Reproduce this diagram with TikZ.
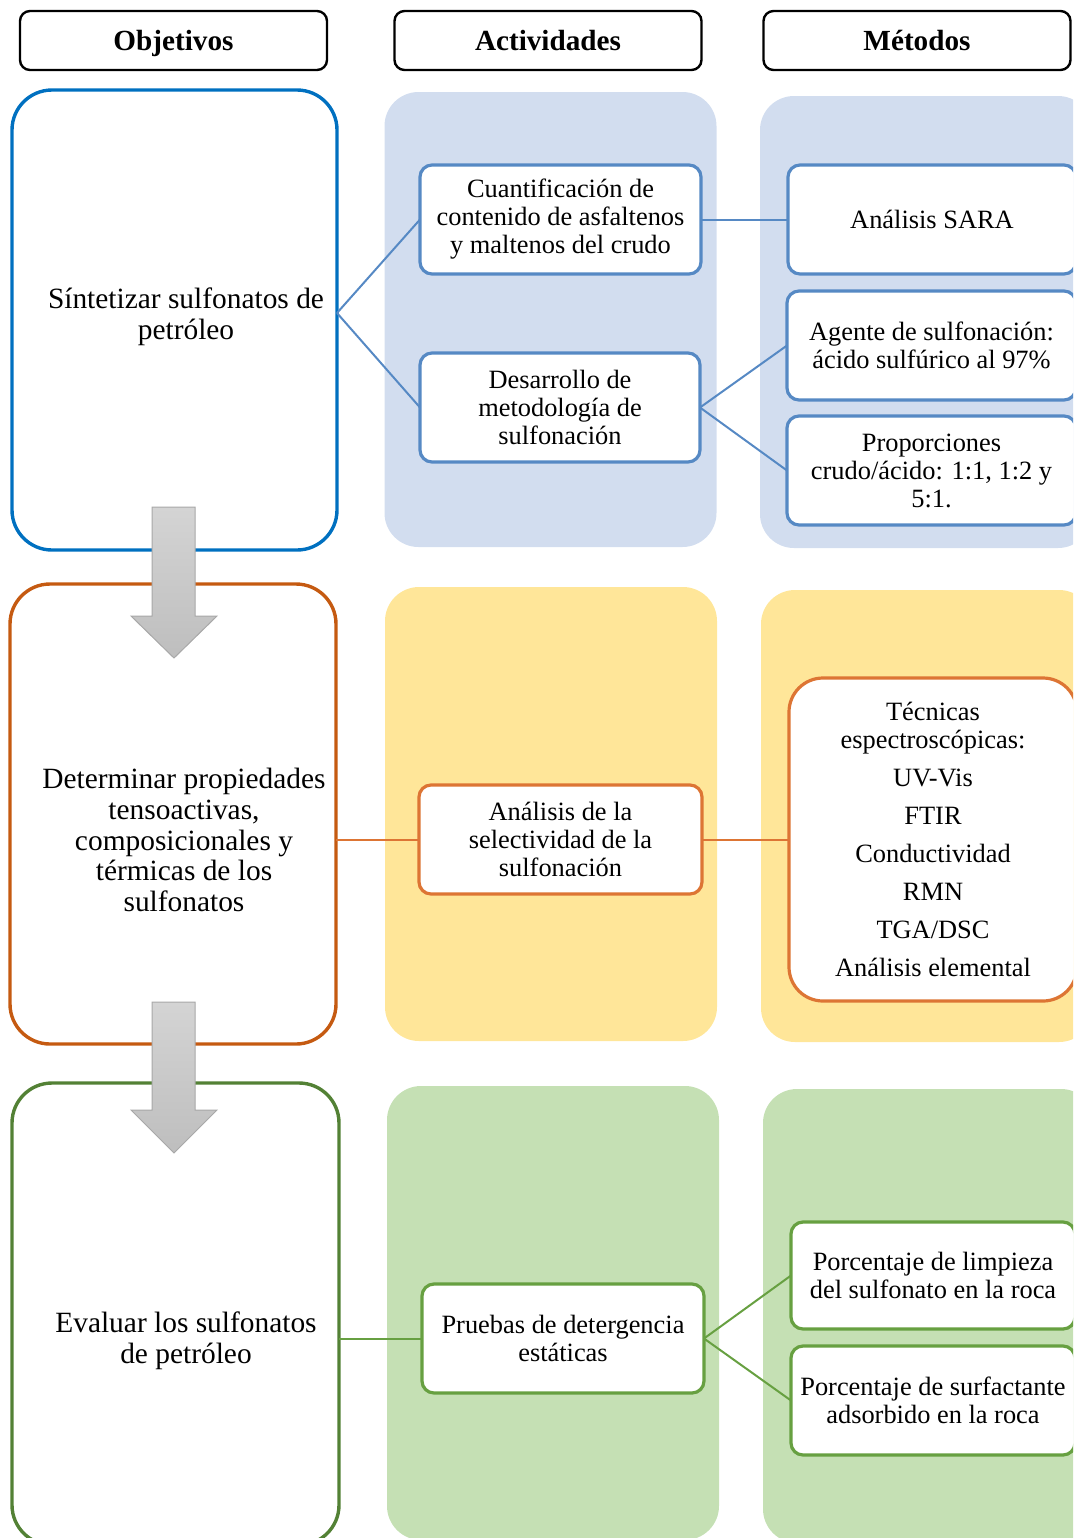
\documentclass[tikz,border=0pt]{standalone}
\usepackage{fontspec}
\setmainfont{Liberation Serif}

\definecolor{objblue}{HTML}{0070C0}
\definecolor{boxblue}{HTML}{5689C4}
\definecolor{panelblue}{HTML}{D2DDEF}
\definecolor{objorange}{HTML}{C55A11}
\definecolor{boxorange}{HTML}{DD7534}
\definecolor{panelyellow}{HTML}{FFE699}
\definecolor{objgreen}{HTML}{538135}
\definecolor{boxgreen}{HTML}{67A041}
\definecolor{panelgreen}{HTML}{C5E0B4}
\definecolor{arrowtop}{HTML}{D4D4D4}
\definecolor{arrowbot}{HTML}{BEBEBE}
\definecolor{arrowline}{HTML}{A8A8A8}

\begin{document}
\begin{tikzpicture}[x=0.5pt,y=-0.5pt,
  hdr/.style={draw=black, line width=1.2pt, rounded corners=5pt, inner sep=0pt, outer sep=0pt,
    minimum width=153.5pt, minimum height=29.5pt, text height=11.5pt, text depth=1.5pt,
    font=\bfseries\fontsize{14.6}{16}\selectfont},
  objbox/.style={line width=1.7pt, rounded corners=20pt, inner sep=0pt, outer sep=0pt,
    minimum height=230pt},
  objtext/.style={align=center, inner sep=0pt, font=\fontsize{14.7}{15.3}\selectfont},
  panel/.style={rounded corners=17pt, inner sep=0pt, outer sep=0pt, minimum width=166pt},
  card/.style={fill=white, line width=1.6pt, rounded corners=6pt, inner sep=0pt, outer sep=0pt,
    align=center, minimum height=54.5pt, font=\fontsize{13.2}{14}\selectfont},
  link/.style={line width=1pt},
  downarrow/.style={top color=arrowtop, bottom color=arrowbot, draw=arrowline, line width=0.5pt}
]
\clip (0,0) rectangle (1073,1538);

% column headers
\node[hdr] (hobj) at (173.5,40.5) {Objetivos};
\node[hdr] (hact) at (548,40.5) {Actividades};
\node[hdr] (hmet) at (917,40.5) {Métodos};

% background panels
\node[panel, fill=panelblue, minimum height=227.5pt] (p1a) at (550.5,319.5) {};
\node[panel, fill=panelblue, minimum height=226pt] (p1m) at (926,322) {};
\node[panel, fill=panelyellow, minimum height=227pt] (p2a) at (551,814) {};
\node[panel, fill=panelyellow, minimum height=226pt] (p2m) at (927,816) {};
\node[panel, fill=panelgreen, minimum height=227pt] (p3a) at (553,1313) {};
\node[panel, fill=panelgreen, minimum height=227pt] (p3m) at (929,1316) {};

% objectives
\node[objbox, draw=objblue, minimum width=162.5pt] (o1) at (174.5,320) {};
\node[objtext] (o1t) at (186,317) {Síntetizar sulfonatos de\\petróleo};
\coordinate (j1) at ([yshift=3.5pt]o1.east);
\node[objbox, draw=objorange, minimum width=163pt] (o2) at (173,814) {};
\node[objtext] (o2t) at (184,840) {Determinar propiedades\\tensoactivas,\\composicionales y\\térmicas de los\\sulfonatos};
\node[objbox, draw=objgreen, minimum width=163.5pt, minimum height=231pt] (o3) at (175.5,1314) {};
\node[objtext] (o3t) at (186,1341) {Evaluar los sulfonatos\\de petróleo};

% row 1: activities and methods
\node[card, draw=boxblue, minimum width=140.5pt] (a11) at (560.5,219.5)
  {Cuantificación de\\contenido de asfaltenos\\y maltenos del crudo};
\node[card, draw=boxblue, minimum width=140pt] (a12) at (560,407.5)
  {Desarrollo de\\metodología de\\sulfonación};
\node[card, draw=boxblue, minimum width=144pt] (m11) at (932,219.5) {Análisis SARA};
\node[card, draw=boxblue, minimum width=144.5pt] (m12) at (931.5,345.5)
  {Agente de sulfonación:\\ácido sulfúrico al 97\%};
\node[card, draw=boxblue, minimum width=144.5pt] (m13) at (931.5,470.5)
  {Proporciones\\crudo/ácido: 1:1, 1:2 y\\5:1.};

\draw[link, boxblue] (j1) -- (a11.west);
\draw[link, boxblue] (j1) -- (a12.west);
\draw[link, boxblue] (a11.east) -- (m11.west);
\draw[link, boxblue] (a12.east) -- (m12.west);
\draw[link, boxblue] (a12.east) -- (m13.west);

% row 2
\node[card, draw=boxorange, minimum width=141.5pt] (a2) at (560.5,839.5)
  {Análisis de la\\selectividad de la\\sulfonación};
\node[card, draw=boxorange, minimum width=144pt, minimum height=161.5pt, rounded corners=17pt] (m2) at (933,839.5)
  {Técnicas\\espectroscópicas:\\[5pt]UV-Vis\\[5pt]FTIR\\[5pt]Conductividad\\[5pt]RMN\\[5pt]TGA/DSC\\[5pt]Análisis elemental};

\draw[link, boxorange] (o2.east |- a2) -- (a2.west);
\draw[link, boxorange] (a2.east) -- (m2.west);

% row 3
\node[card, draw=boxgreen, minimum width=141pt] (a3) at (563,1338.5)
  {Pruebas de detergencia\\estáticas};
\node[card, draw=boxgreen, minimum width=142pt, minimum height=53.5pt] (m31) at (933,1275.5)
  {Porcentaje de limpieza\\del sulfonato en la roca};
\node[card, draw=boxgreen, minimum width=142pt] (m32) at (933,1400.5)
  {Porcentaje de surfactante\\adsorbido en la roca};

\draw[link, boxgreen] (o3.east |- a3) -- (a3.west);
\draw[link, boxgreen] (a3.east) -- (m31.west);
\draw[link, boxgreen] (a3.east) -- (m32.west);

% flow arrows between objectives
\path[downarrow] (152,507) -- (195,507) -- (195,616) -- (217,616) -- (174,658)
  -- (131,616) -- (152,616) -- cycle;
\path[downarrow] (152,1002) -- (195,1002) -- (195,1110) -- (217,1110) -- (174,1153)
  -- (131,1110) -- (152,1110) -- cycle;
\end{tikzpicture}
\end{document}
